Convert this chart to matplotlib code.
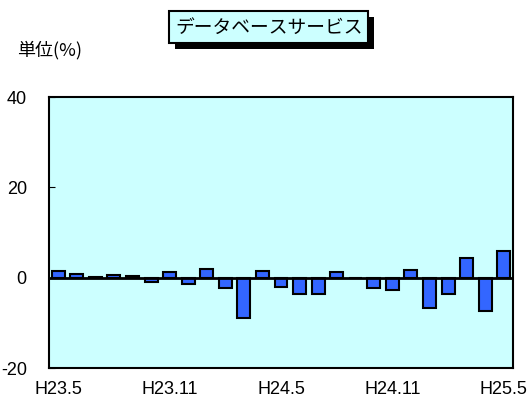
import matplotlib
matplotlib.use("Agg")
import matplotlib.pyplot as plt
from matplotlib.patches import Rectangle

plt.rcParams['font.family'] = ['Liberation Sans', 'Noto Sans CJK JP', 'DejaVu Sans']

months = ["H23.5", "H23.6", "H23.7", "H23.8", "H23.9", "H23.10", "H23.11", "H23.12",
          "H24.1", "H24.2", "H24.3", "H24.4", "H24.5", "H24.6", "H24.7", "H24.8",
          "H24.9", "H24.10", "H24.11", "H24.12", "H25.1", "H25.2", "H25.3", "H25.4", "H25.5"]
values = [1.5, 0.9, 0.1, 0.5, 0.4, -1.0, 1.3, -1.5, 1.9, -2.3, -8.9, 1.5, -2.1,
          -3.6, -3.6, 1.3, 0.0, -2.3, -2.8, 1.8, -6.7, -3.6, 4.4, -7.4, 6.0]
title = "データベースサービス"
unit_label = "単位(%)"
yticks = [-20, 0, 20, 40]

fig = plt.figure(figsize=(5.32, 4.03), dpi=100)
ax = fig.add_axes([0.0921, 0.0868, 0.8722, 0.6725])
ax.set_facecolor('#CCFFFF')

x = list(range(len(months)))
ax.bar(x, values, width=0.7, color='#3366FF', edgecolor='black', linewidth=1.5, zorder=3)
ax.axhline(0, color='black', linewidth=2, zorder=4)

ax.set_xlim(-0.5, len(months) - 0.5)
ax.set_ylim(-20, 40)
ax.set_yticks(yticks)
ax.set_yticklabels([str(v) for v in yticks], fontsize=13)
ax.tick_params(axis='y', direction='in', length=4, pad=16)
ax.set_xticks(x[::6])
ax.set_xticklabels(months[::6], fontsize=13)
ax.tick_params(axis='x', length=0, pad=9)
for s in ax.spines.values():
    s.set_linewidth(1.5)
    s.set_color('black')

# title with shadow box
cjk = ['Noto Sans CJK JP', 'DejaVu Sans']
t = fig.text(0.505, 0.933, title, fontsize=13.5, family=cjk, ha='center', va='center', color='black',
             zorder=5,
             bbox=dict(boxstyle='square,pad=0.3', facecolor='#CCFFFF', edgecolor='black', linewidth=1.5))

fig.text(0.032, 0.876, unit_label, fontsize=13, family=cjk, ha='left', va='center')

fig.canvas.draw()
bb = t.get_bbox_patch().get_window_extent()
W, H = fig.bbox.width, fig.bbox.height
off = 6
fig.patches.append(Rectangle(((bb.x0 + off) / W, (bb.y0 - off) / H), bb.width / W, bb.height / H,
                             transform=fig.transFigure, facecolor='black', edgecolor='none', zorder=1))

fig.savefig('out.png', dpi=100)
